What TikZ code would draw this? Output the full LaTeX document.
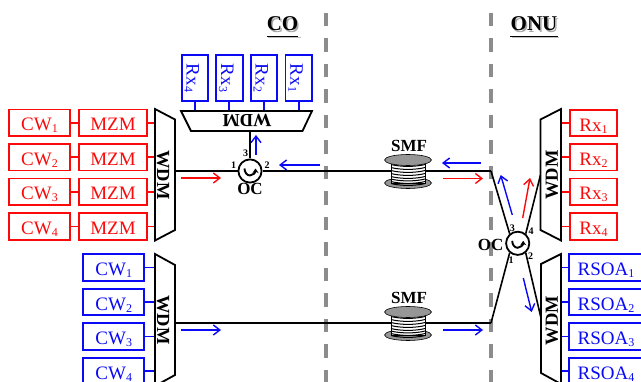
\documentclass[tikz,border=0pt]{standalone}
\usepackage{fontspec}
\setmainfont{Liberation Serif}
\usetikzlibrary{arrows.meta}
\definecolor{myblue}{RGB}{10,10,245}
\definecolor{myred}{RGB}{250,10,10}
\definecolor{dashgray}{RGB}{140,140,140}
\definecolor{spoolgray}{RGB}{150,150,150}
\newcommand\sbs[1]{\raisebox{-2pt}{\fontsize{12}{12}\selectfont #1}}
\tikzset{
  box/.style={draw,line width=1.9pt,inner sep=0pt,text height=16.6pt,text depth=0pt,font=\fontsize{19}{20}\selectfont},
  redbox/.style={box,draw=myred,text=myred},
  bluebox/.style={box,draw=myblue,text=myblue},
  stub/.style={line width=1.8pt},
  fibre/.style={line width=1.6pt,black},
  mux/.style={line width=1.8pt,black,line join=miter,fill=white},
  wdmtext/.style={inner sep=0pt,font=\bfseries\fontsize{18.5}{20}\selectfont},
  flow/.style={line width=1.4pt,-{Straight Barb[length=6.5pt,width=10pt,line width=1.4pt]}},
  boundary/.style={dashgray,line width=3.4pt,dash pattern=on 13.5pt off 12pt},
  circ/.style={circle,draw,fill=white,line width=1.8pt,minimum size=23.2pt,inner sep=0pt},
  portnum/.style={inner sep=0pt,font=\bfseries\fontsize{10}{10}\selectfont},
  oclabel/.style={inner sep=0pt,font=\bfseries\fontsize{17}{17}\selectfont},
  title/.style={inner sep=0pt,font=\bfseries\fontsize{21}{21}\selectfont},
  titleshadow/.style={title,text=black!35},
}
\begin{document}
\begin{tikzpicture}[x=1pt,y=-1pt]
\useasboundingbox (0,0) rectangle (641,382);
\clip (0,0) rectangle (641,382);
% boundaries
\coordinate (bA) at (326,13); \coordinate (bAe) at (326,382);
\coordinate (bB) at (491,13); \coordinate (bBe) at (491,382);
\draw[boundary] (bA) -- (bAe);
\draw[boundary] (bB) -- (bBe);
% titles
\node[titleshadow] at (284,25.5) {CO};
\node[title] (co) at (282.5,24) {CO};
\draw[black!25,line width=1.6pt] (268,37.5) -- (301,37.5);
\draw[line width=.9pt] (co.west|-0,36) -- (co.east|-0,36);
\node[titleshadow] at (535.5,25.5) {ONU};
\node[title] (onu) at (534,24) {ONU};
\draw[black!25,line width=1.6pt] (511.5,37.5) -- (559,37.5);
\draw[line width=.9pt] (onu.west|-0,36) -- (onu.east|-0,36);

% fibres' anchor points
\coordinate (muxAout) at (175,171);
\coordinate (muxBout) at (175,323);
\coordinate (muxCout) at (250,131);
\coordinate (joinU) at (491,171);
\coordinate (joinL) at (491,323);
\coordinate (wdmDin) at (540.5,175);
\coordinate (wdmEin) at (541,318);

% circulators
\node[circ] (ocA) at (250,171) {};
\node[circ] (ocB) at (517.7,243.3) {};
\foreach \c in {ocA,ocB}{
  \draw[line width=1.9pt,-{Stealth[length=4.5pt,width=6pt]}] ([shift={(-5.5,-2.5)}]\c.center) arc[start angle=180,end angle=360,x radius=5.5,y radius=-7];
}
% fibres
\draw[fibre] (muxAout) -- (ocA);
\draw[fibre] (ocA) -- (joinU);
\draw[fibre] (muxCout) -- (ocA);
\draw[fibre] (muxBout) -- (joinL);
\draw[fibre] (joinU) -- (ocB.130);
\draw[fibre] (joinL) -- (ocB.-130);
\draw[fibre] (ocB.50) -- (wdmDin);
\draw[fibre] (ocB.-50) -- (wdmEin);

% CO transmit
\foreach \i/\y in {1/122.7,2/157.3,3/191.7,4/226.5}{
  \node[redbox,minimum width=61pt,minimum height=26.4pt] (cwr\i) at (39.5,\y) {CW\sbs{\i}};
  \node[redbox,minimum width=67.5pt,minimum height=26.4pt] (mzm\i) at (113,\y) {MZM};
  \draw[stub,myred] (cwr\i) -- (mzm\i);
  \draw[stub,myred] (mzm\i.east) -- ++(8,0);
}
\draw[mux] (155,109) -- (175,119.5) -- (175,230) -- (155,240.5) -- cycle;
\node[wdmtext,rotate=-90] (wdmA) at (163,175) {WDM};
% CO blue CW
\foreach \i/\y in {1/267.5,2/302,3/336.5,4/371}{
  \node[bluebox,minimum width=61pt,minimum height=26.4pt] (cwb\i) at (113.7,\y) {CW\sbs{\i}};
  \draw[stub,myblue] (cwb\i.east) -- ++(10,0);
}
% CO Rx
\foreach \i/\x in {4/194.8,3/229.3,2/264,1/298.7}{
  \node[bluebox,rotate=-90,minimum width=46.5pt,minimum height=26.5pt] (rxb\i) at (\x,78) {Rx\sbs{\i}};
  \draw[stub,myblue] (rxb\i.east) -- ++(0,9);
}
% muxes
\draw[mux] (155,254) -- (175,265) -- (175,375) -- (155,386) -- cycle;
\node[wdmtext,rotate=-90] (wdmB) at (163,320) {WDM};
\draw[mux] (181,111) -- (312,111) -- (302.5,131) -- (191,131) -- cycle;
\node[wdmtext,rotate=180] (wdmC) at (247,120) {WDM};

\node[portnum] at (233.5,165.5) {1};
\node[portnum] at (267,165.5) {2};
\node[portnum] at (245.5,153.5) {3};
\node[oclabel] (ocAl) at (250,189) {OC};
\node[portnum] at (511,260.5) {1};
\node[portnum] at (530.7,255.7) {2};
\node[portnum] at (512.3,228) {3};
\node[portnum] at (531,231) {4};
\node[oclabel] at (490.7,245) {OC};

% spools
\foreach \n/\y in {spA/171,spB/323}{
  \begin{scope}[shift={(408,\y)}]
    \fill[spoolgray,draw=black,line width=.6pt] (0,12) ellipse[x radius=23.5,y radius=5.5];
    \fill[white,draw=black,line width=.8pt] (-17,-11) rectangle (17,12.5);
    \foreach \d in {-6.5,-3.5,-0.5,2.5,5.5,8,10.5,12.5}
      \draw[black,line width=1pt] (-17,\d) .. controls (-8,\d+2.5) and (8,\d+2.5) .. (17,\d);
    \fill[spoolgray,draw=black,line width=.6pt] (0,-11) ellipse[x radius=23.5,y radius=5.5];
  \end{scope}
}
\node[oclabel] at (409,145.5) {SMF};
\node[oclabel] at (409,297.5) {SMF};

% ONU
\foreach \i/\y in {1/123,2/157.3,3/191.7,4/226.5}{
  \node[redbox,minimum width=46.5pt,minimum height=26.4pt] (rxr\i) at (593.5,\y) {Rx\sbs{\i}};
  \draw[stub,myred] (rxr\i.west) -- ++(-9,0);
}
\foreach \i/\y in {1/267.5,2/302,3/336.5,4/371}{
  \node[bluebox,anchor=west,minimum height=26.4pt,text width=82pt,align=left] (rsoa\i) at (568.2,\y) {\hspace*{8.5pt}RSOA\sbs{\i}};
  \draw[stub,myblue] (rsoa\i.west) -- ++(-7,0);
}
\draw[mux] (561,109) -- (540.5,119.5) -- (540.5,230) -- (561,240.5) -- cycle;
\node[wdmtext,rotate=90] at (552,175) {WDM};
\draw[mux] (561,254) -- (541,264) -- (541,373) -- (561,384) -- cycle;
\node[wdmtext,rotate=90] at (552,320.5) {WDM};

% flow arrows
\coordinate (a1s) at (181,178); \coordinate (a1e) at (221,178);
\draw[flow,myred] (a1s) -- (a1e);
\coordinate (a2s) at (320,165); \coordinate (a2e) at (279,165);
\draw[flow,myblue] (a2s) -- (a2e);
\coordinate (a3s) at (256,155); \coordinate (a3e) at (256,135);
\draw[flow,myblue] (a3s) -- (a3e);
\coordinate (a4s) at (181,330); \coordinate (a4e) at (221,330);
\draw[flow,myblue] (a4s) -- (a4e);
\coordinate (a5s) at (481,163); \coordinate (a5e) at (442,163);
\draw[flow,myblue] (a5s) -- (a5e);
\coordinate (a6s) at (443,178.5); \coordinate (a6e) at (483,178.5);
\draw[flow,myred] (a6s) -- (a6e);
\coordinate (a7s) at (443,330); \coordinate (a7e) at (483,330);
\draw[flow,myblue] (a7s) -- (a7e);
\coordinate (a8s) at (512.3,215); \coordinate (a8e) at (500.7,175);
\draw[flow,myblue] (a8s) -- (a8e);
\coordinate (a9s) at (522.7,218); \coordinate (a9e) at (530,178);
\draw[flow,myred] (a9s) -- (a9e);
\coordinate (a10s) at (523.3,278); \coordinate (a10e) at (531.7,312);
\draw[flow,myblue] (a10s) -- (a10e);
\end{tikzpicture}
\end{document}
